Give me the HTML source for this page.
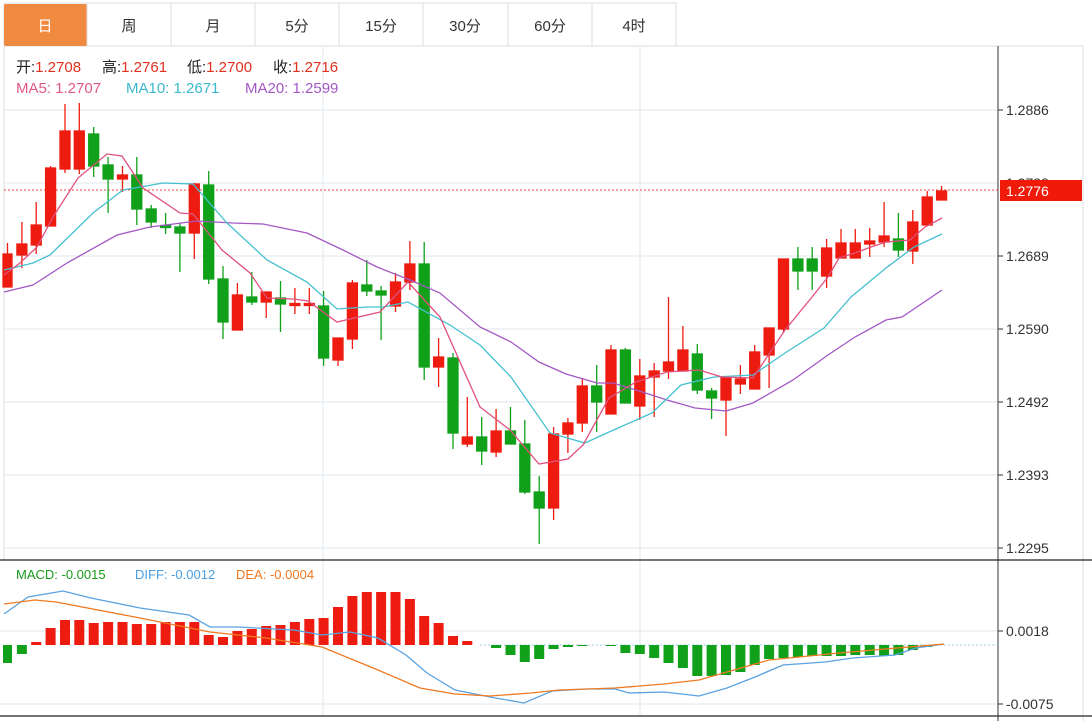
<!DOCTYPE html>
<html><head><meta charset="utf-8">
<style>
html,body{margin:0;padding:0;background:#fff;}
body{width:1092px;height:721px;overflow:hidden;position:relative;font-family:"Liberation Sans","Noto Sans CJK SC",sans-serif;}
svg{position:absolute;left:0;top:0;}
</style></head><body>
<svg width="1092" height="721" viewBox="0 0 1092 721" xmlns="http://www.w3.org/2000/svg" font-family="Liberation Sans, Noto Sans CJK SC, sans-serif">
<rect x="4" y="3" width="672" height="43" fill="#fff" stroke="#dcdcdc"/>
<rect x="4" y="4" width="83" height="42" fill="#f08a40" rx="2"/>
<g stroke="#dcdcdc"><line x1="87" y1="3" x2="87" y2="46"/><line x1="171" y1="3" x2="171" y2="46"/><line x1="255" y1="3" x2="255" y2="46"/><line x1="339" y1="3" x2="339" y2="46"/><line x1="423" y1="3" x2="423" y2="46"/><line x1="508" y1="3" x2="508" y2="46"/><line x1="592" y1="3" x2="592" y2="46"/></g>
<g font-size="15" text-anchor="middle" fill="#333">
<text x="45" y="31" fill="#fff">日</text><text x="129" y="31">周</text><text x="213" y="31">月</text><text x="297" y="31">5分</text><text x="381" y="31">15分</text><text x="465" y="31">30分</text><text x="550" y="31">60分</text><text x="634" y="31">4时</text>
</g>
<line x1="676" y1="46" x2="1083" y2="46" stroke="#dcdcdc"/>
<line x1="1083" y1="46" x2="1083" y2="721" stroke="#dcdcdc"/>
<line x1="4" y1="46" x2="4" y2="560" stroke="#dcdcdc"/>
<g stroke="#e6ecf0" stroke-width="1.2">
<line x1="4" y1="110" x2="998" y2="110"/><line x1="4" y1="183" x2="998" y2="183"/><line x1="4" y1="256" x2="998" y2="256"/><line x1="4" y1="329" x2="998" y2="329"/><line x1="4" y1="402" x2="998" y2="402"/><line x1="4" y1="475" x2="998" y2="475"/><line x1="4" y1="548" x2="998" y2="548"/>
<line x1="323" y1="46" x2="323" y2="716"/><line x1="640" y1="46" x2="640" y2="716"/>
<line x1="0" y1="631" x2="998" y2="631"/><line x1="0" y1="704" x2="998" y2="704"/>
</g>
<line x1="998" y1="46" x2="998" y2="721" stroke="#333"/>
<line x1="0" y1="560" x2="1092" y2="560" stroke="#222" stroke-width="1.3"/>
<line x1="0" y1="716" x2="1092" y2="716" stroke="#222" stroke-width="1.3"/>
<g stroke="#333"><line x1="998" y1="110" x2="1003" y2="110"/><line x1="998" y1="256" x2="1003" y2="256"/><line x1="998" y1="329" x2="1003" y2="329"/><line x1="998" y1="402" x2="1003" y2="402"/><line x1="998" y1="475" x2="1003" y2="475"/><line x1="998" y1="548" x2="1003" y2="548"/><line x1="998" y1="631" x2="1003" y2="631"/><line x1="998" y1="704" x2="1003" y2="704"/></g>
<g font-size="14" fill="#333">
<text x="1006" y="115">1.2886</text><text x="1006" y="188">1.2788</text><text x="1006" y="261">1.2689</text><text x="1006" y="334">1.2590</text><text x="1006" y="407">1.2492</text><text x="1006" y="480">1.2393</text><text x="1006" y="553">1.2295</text>
<text x="1006" y="636">0.0018</text><text x="1006" y="709">-0.0075</text>
</g>
<line x1="4" y1="190" x2="998" y2="190" stroke="#e84a3a" stroke-dasharray="2,2"/>
<rect x="1000" y="180" width="82" height="21" fill="#f01a0a"/>
<text x="1006" y="196" font-size="14" fill="#fff">1.2776</text>
<g font-size="15">
<text x="16" y="72"><tspan fill="#222">开:</tspan><tspan fill="#e0301e">1.2708</tspan></text>
<text x="102" y="72"><tspan fill="#222">高:</tspan><tspan fill="#e0301e">1.2761</tspan></text>
<text x="187" y="72"><tspan fill="#222">低:</tspan><tspan fill="#e0301e">1.2700</tspan></text>
<text x="273" y="72"><tspan fill="#222">收:</tspan><tspan fill="#e0301e">1.2716</tspan></text>
<text x="16" y="93" fill="#e0588a">MA5: 1.2707</text>
<text x="126" y="93" fill="#3bb8cc">MA10: 1.2671</text>
<text x="245" y="93" fill="#a358c4">MA20: 1.2599</text>
</g>
<g font-size="13">
<text x="16" y="579" fill="#1a9a1a">MACD: -0.0015</text>
<text x="135" y="579" fill="#4a9ee0">DIFF: -0.0012</text>
<text x="236" y="579" fill="#f07820">DEA: -0.0004</text>
</g>
<g stroke-width="1.3">
<g stroke="#ee1c10" fill="#ee1c10">
<line x1="7.5" y1="243" x2="7.5" y2="287"/><rect x="3" y="254" width="9" height="33"/>
<line x1="21.9" y1="222" x2="21.9" y2="268"/><rect x="16.9" y="244" width="10" height="11"/>
<line x1="36.2" y1="202" x2="36.2" y2="254"/><rect x="31.2" y="225" width="10" height="20"/>
<line x1="50.6" y1="166" x2="50.6" y2="226"/><rect x="45.6" y="168" width="10" height="58"/>
<line x1="65" y1="104" x2="65" y2="173"/><rect x="60" y="131" width="10" height="38"/>
<line x1="79.3" y1="103" x2="79.3" y2="174"/><rect x="74.3" y="131" width="10" height="38"/>
<line x1="122.5" y1="166" x2="122.5" y2="192"/><rect x="117.5" y="175" width="10" height="4"/>
<line x1="194.3" y1="183" x2="194.3" y2="259"/><rect x="189.3" y="184" width="10" height="49"/>
<line x1="237.4" y1="283" x2="237.4" y2="330"/><rect x="232.4" y="295" width="10" height="35"/>
<line x1="266.2" y1="292" x2="266.2" y2="318"/><rect x="261.2" y="292" width="10" height="10"/>
<line x1="294.9" y1="288" x2="294.9" y2="314"/><rect x="289.9" y="303.5" width="10" height="2"/>
<line x1="309.3" y1="288" x2="309.3" y2="314"/><rect x="304.3" y="303.5" width="10" height="2"/>
<line x1="338" y1="338" x2="338" y2="366"/><rect x="333" y="338" width="10" height="22"/>
<line x1="352.4" y1="280" x2="352.4" y2="349"/><rect x="347.4" y="283" width="10" height="56"/>
<line x1="395.5" y1="273" x2="395.5" y2="312"/><rect x="390.5" y="282" width="10" height="24"/>
<line x1="409.9" y1="241" x2="409.9" y2="290"/><rect x="404.9" y="264" width="10" height="18"/>
<line x1="438.6" y1="338" x2="438.6" y2="387"/><rect x="433.6" y="357" width="10" height="10"/>
<line x1="467.3" y1="397" x2="467.3" y2="447"/><rect x="462.3" y="437" width="10" height="7"/>
<line x1="496.1" y1="409" x2="496.1" y2="457"/><rect x="491.1" y="431" width="10" height="21"/>
<line x1="553.6" y1="427" x2="553.6" y2="520"/><rect x="548.6" y="434" width="10" height="74"/>
<line x1="567.9" y1="418" x2="567.9" y2="453"/><rect x="562.9" y="423" width="10" height="11"/>
<line x1="582.3" y1="378" x2="582.3" y2="432"/><rect x="577.3" y="386" width="10" height="37"/>
<line x1="611" y1="345" x2="611" y2="414"/><rect x="606" y="350" width="10" height="64"/>
<line x1="639.8" y1="359" x2="639.8" y2="420"/><rect x="634.8" y="376" width="10" height="30"/>
<line x1="654.2" y1="363" x2="654.2" y2="417"/><rect x="649.2" y="371" width="10" height="6"/>
<line x1="668.5" y1="297" x2="668.5" y2="379"/><rect x="663.5" y="362" width="10" height="9"/>
<line x1="682.9" y1="326" x2="682.9" y2="371"/><rect x="677.9" y="350" width="10" height="21"/>
<line x1="726" y1="378" x2="726" y2="436"/><rect x="721" y="378" width="10" height="22"/>
<line x1="740.4" y1="365" x2="740.4" y2="394"/><rect x="735.4" y="379" width="10" height="5"/>
<line x1="754.7" y1="345" x2="754.7" y2="389"/><rect x="749.7" y="352" width="10" height="37"/>
<line x1="769.1" y1="328" x2="769.1" y2="388"/><rect x="764.1" y="328" width="10" height="27"/>
<line x1="783.5" y1="259" x2="783.5" y2="333"/><rect x="778.5" y="259" width="10" height="70"/>
<line x1="826.6" y1="239" x2="826.6" y2="288"/><rect x="821.6" y="248" width="10" height="28"/>
<line x1="841" y1="229" x2="841" y2="258"/><rect x="836" y="243" width="10" height="15"/>
<line x1="855.3" y1="229" x2="855.3" y2="258"/><rect x="850.3" y="243" width="10" height="15"/>
<line x1="869.7" y1="228" x2="869.7" y2="257"/><rect x="864.7" y="241" width="10" height="3"/>
<line x1="884.1" y1="202" x2="884.1" y2="247"/><rect x="879.1" y="236" width="10" height="6"/>
<line x1="912.8" y1="210" x2="912.8" y2="264"/><rect x="907.8" y="222" width="10" height="29"/>
<line x1="927.2" y1="191" x2="927.2" y2="225"/><rect x="922.2" y="197" width="10" height="28"/>
<line x1="941.6" y1="186" x2="941.6" y2="200"/><rect x="936.6" y="191" width="10" height="9"/>
</g>
<g stroke="#11a01a" fill="#11a01a">
<line x1="93.7" y1="127" x2="93.7" y2="177"/><rect x="88.7" y="134" width="10" height="32"/>
<line x1="108.1" y1="157" x2="108.1" y2="213"/><rect x="103.1" y="165" width="10" height="14"/>
<line x1="136.8" y1="157" x2="136.8" y2="225"/><rect x="131.8" y="175" width="10" height="34"/>
<line x1="151.2" y1="205" x2="151.2" y2="228"/><rect x="146.2" y="209" width="10" height="13"/>
<line x1="165.6" y1="213" x2="165.6" y2="234"/><rect x="160.6" y="225.5" width="10" height="2"/>
<line x1="179.9" y1="223" x2="179.9" y2="272"/><rect x="174.9" y="227" width="10" height="6"/>
<line x1="208.7" y1="171" x2="208.7" y2="284"/><rect x="203.7" y="185" width="10" height="94"/>
<line x1="223" y1="266" x2="223" y2="339"/><rect x="218" y="279" width="10" height="43"/>
<line x1="251.8" y1="272" x2="251.8" y2="305"/><rect x="246.8" y="297" width="10" height="5"/>
<line x1="280.5" y1="281" x2="280.5" y2="332"/><rect x="275.5" y="298" width="10" height="6"/>
<line x1="323.6" y1="291" x2="323.6" y2="366"/><rect x="318.6" y="306" width="10" height="52"/>
<line x1="366.8" y1="260" x2="366.8" y2="296"/><rect x="361.8" y="285" width="10" height="6"/>
<line x1="381.1" y1="286" x2="381.1" y2="340"/><rect x="376.1" y="291" width="10" height="4"/>
<line x1="424.2" y1="242" x2="424.2" y2="380"/><rect x="419.2" y="264" width="10" height="103"/>
<line x1="453" y1="353" x2="453" y2="449"/><rect x="448" y="358" width="10" height="75"/>
<line x1="481.7" y1="417" x2="481.7" y2="465"/><rect x="476.7" y="437" width="10" height="14"/>
<line x1="510.5" y1="407" x2="510.5" y2="444"/><rect x="505.5" y="431" width="10" height="13"/>
<line x1="524.8" y1="420" x2="524.8" y2="494"/><rect x="519.8" y="444" width="10" height="48"/>
<line x1="539.2" y1="476" x2="539.2" y2="544"/><rect x="534.2" y="492" width="10" height="16"/>
<line x1="596.7" y1="365" x2="596.7" y2="432"/><rect x="591.7" y="386" width="10" height="16"/>
<line x1="625.4" y1="348" x2="625.4" y2="403"/><rect x="620.4" y="350" width="10" height="53"/>
<line x1="697.3" y1="344" x2="697.3" y2="394"/><rect x="692.3" y="354" width="10" height="36"/>
<line x1="711.6" y1="388" x2="711.6" y2="419"/><rect x="706.6" y="391" width="10" height="7"/>
<line x1="797.9" y1="247" x2="797.9" y2="290"/><rect x="792.9" y="259" width="10" height="12"/>
<line x1="812.2" y1="247" x2="812.2" y2="290"/><rect x="807.2" y="259" width="10" height="12"/>
<line x1="898.4" y1="213" x2="898.4" y2="257"/><rect x="893.4" y="239" width="10" height="11"/>
</g>
</g>
<g fill="none" stroke-width="1.3">
<polyline stroke="#a358c4" points="4,292 33,285 67,263 117,235 150,227 197,221 233,223 263,224 307,233 343,250 377,267 410,280 440,293 480,327 511,342 539,362 566,374 597,383 613,383 636,390 667,400 695,408 726,411 753,403 793,380 828,355 855,337 886,320 902,317 942,290"/>
<polyline stroke="#45c0d0" points="4,270 33,263 50,255 93,213 123,190 163,183 193,184 227,223 267,260 307,282 337,309 367,307 383,307 408,302 450,325 480,345 511,377 550,433 585,443 609,432 652,413 681,385 714,377 753,375 785,353 824,328 851,297 886,268 914,247 942,234"/>
<polyline stroke="#e0507e" points="4,275 20,263 37,247 53,217 78,178 107,154 122,156 143,188 180,213 193,214 222,250 250,273 267,298 293,299 308,301 337,322 380,312 408,282 440,317 480,407 510,430 539,464 568,459 583,445 609,398 636,382 667,372 699,370 722,377 753,378 785,330 812,297 828,277 839,258 855,253 871,247 886,242 910,240 925,227 942,218"/>
</g>
<line x1="480" y1="645" x2="998" y2="645" stroke="#9fd0e8" stroke-dasharray="2,2"/>
<g fill="#ee1c10">
<rect x="31.2" y="642" width="10" height="3"/><rect x="45.6" y="628" width="10" height="17"/><rect x="60" y="620" width="10" height="25"/><rect x="74.3" y="620" width="10" height="25"/><rect x="88.7" y="623" width="10" height="22"/><rect x="103.1" y="622" width="10" height="23"/><rect x="117.5" y="622" width="10" height="23"/><rect x="131.8" y="624" width="10" height="21"/><rect x="146.2" y="624" width="10" height="21"/><rect x="160.6" y="622" width="10" height="23"/><rect x="174.9" y="622" width="10" height="23"/><rect x="189.3" y="622" width="10" height="23"/><rect x="203.7" y="635" width="10" height="10"/><rect x="218" y="637" width="10" height="8"/><rect x="232.4" y="631" width="10" height="14"/><rect x="246.8" y="629" width="10" height="16"/><rect x="261.2" y="626" width="10" height="19"/><rect x="275.5" y="625" width="10" height="20"/><rect x="289.9" y="622" width="10" height="23"/><rect x="304.3" y="619" width="10" height="26"/><rect x="318.6" y="618" width="10" height="27"/><rect x="333" y="607" width="10" height="38"/><rect x="347.4" y="596" width="10" height="49"/><rect x="361.8" y="592" width="10" height="53"/><rect x="376.1" y="592" width="10" height="53"/><rect x="390.5" y="592" width="10" height="53"/><rect x="404.9" y="599" width="10" height="46"/><rect x="419.2" y="616" width="10" height="29"/><rect x="433.6" y="623" width="10" height="22"/><rect x="448" y="636" width="10" height="9"/><rect x="462.3" y="641" width="10" height="4"/>
</g>
<g fill="#11a01a">
<rect x="3" y="645" width="9" height="18"/><rect x="16.9" y="645" width="10" height="9"/>
<rect x="491.1" y="645" width="10" height="3"/><rect x="505.5" y="645" width="10" height="10"/><rect x="519.8" y="645" width="10" height="17"/><rect x="534.2" y="645" width="10" height="14"/><rect x="548.6" y="645" width="10" height="4"/><rect x="562.9" y="645" width="10" height="2"/><rect x="577.3" y="645" width="10" height="1"/><rect x="606" y="645" width="10" height="1"/><rect x="620.4" y="645" width="10" height="8"/><rect x="634.8" y="645" width="10" height="9"/><rect x="649.2" y="645" width="10" height="13"/><rect x="663.5" y="645" width="10" height="18"/><rect x="677.9" y="645" width="10" height="23"/><rect x="692.3" y="645" width="10" height="31"/><rect x="706.6" y="645" width="10" height="31"/><rect x="721" y="645" width="10" height="30"/><rect x="735.4" y="645" width="10" height="27"/><rect x="749.7" y="645" width="10" height="20"/><rect x="764.1" y="645" width="10" height="14"/><rect x="778.5" y="645" width="10" height="13"/><rect x="792.9" y="645" width="10" height="12"/><rect x="807.2" y="645" width="10" height="11"/><rect x="821.6" y="645" width="10" height="11"/><rect x="836" y="645" width="10" height="11"/><rect x="850.3" y="645" width="10" height="10"/><rect x="864.7" y="645" width="10" height="10"/><rect x="879.1" y="645" width="10" height="11"/><rect x="893.4" y="645" width="10" height="10"/><rect x="907.8" y="645" width="10" height="5"/><rect x="922.2" y="645" width="10" height="2"/>
</g>
<g fill="none" stroke-width="1.3">
<polyline stroke="#5aa2e2" points="4,614 28,597 63,591 91,598 140,608 189,615 210,627 238,627 294,630 322,635 350,632 378,638 406,655 427,673 455,690 490,697 524,703 552,691 587,689 615,689 629,693 664,692 699,696 727,688 755,677 783,665 825,662 853,658 895,655 916,648 944,644"/>
<polyline stroke="#f07a22" points="4,604 35,600 56,602 140,618 210,632 266,638 322,647 378,670 420,688 455,694 490,696 531,693 559,690 615,688 664,684 699,680 727,672 769,660 839,653 909,647 944,644"/>
</g>
</svg>
</body></html>
